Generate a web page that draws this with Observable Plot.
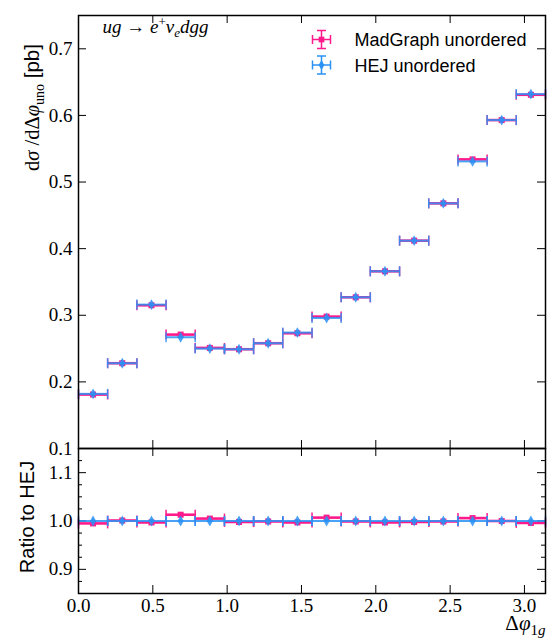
<!DOCTYPE html>
<html>
<head>
<meta charset="utf-8">
<script src="https://cdn.jsdelivr.net/npm/d3@7"></script>
<script src="https://cdn.jsdelivr.net/npm/@observablehq/plot@0.6"></script>
<style>
  body { margin: 0; background: #fff; }
  #chart { position: relative; width: 547px; height: 639px; }
  #chart svg { position: absolute; left: 0; }
</style>
</head>
<body>
<div id="chart"></div>
<script>
// ---------- data ----------
const binEdges = [0, 0.196, 0.393, 0.589, 0.785, 0.982, 1.178, 1.374, 1.571, 1.767, 1.963, 2.160, 2.356, 2.553, 2.749, 2.945, 3.1416];
const madgraph    = [0.181, 0.228, 0.315, 0.271, 0.251, 0.249, 0.258, 0.273, 0.298, 0.327, 0.366, 0.412, 0.468, 0.534, 0.593, 0.631];
const madgraphErr = [0.002, 0.002, 0.002, 0.002, 0.002, 0.002, 0.002, 0.002, 0.002, 0.002, 0.002, 0.002, 0.002, 0.002, 0.002, 0.002];
const hej         = [0.182, 0.228, 0.316, 0.267, 0.250, 0.249, 0.258, 0.274, 0.296, 0.327, 0.366, 0.412, 0.468, 0.531, 0.593, 0.632];
const hejErr      = [0.0015, 0.0015, 0.0015, 0.0015, 0.0015, 0.0015, 0.0015, 0.0015, 0.0015, 0.0015, 0.0015, 0.0015, 0.0015, 0.0015, 0.0015, 0.0015];
const ratioMadgraph    = [0.995, 1.001, 0.997, 1.013, 1.005, 0.998, 0.999, 0.997, 1.007, 0.999, 0.997, 0.998, 0.999, 1.006, 1.000, 0.996];
const ratioMadgraphErr = [0.004, 0.004, 0.004, 0.004, 0.004, 0.004, 0.004, 0.004, 0.004, 0.004, 0.004, 0.004, 0.004, 0.004, 0.004, 0.004];
const ratioHej         = [1, 1, 1, 1, 1, 1, 1, 1, 1, 1, 1, 1, 1, 1, 1, 1];
const ratioHejErr      = [0.003, 0.003, 0.003, 0.003, 0.003, 0.003, 0.003, 0.003, 0.003, 0.003, 0.003, 0.003, 0.003, 0.003, 0.003, 0.003];

const seriesNames = ["MadGraph unordered", "HEJ unordered"];
const seriesColors = ["#ff1a8c", "#2a92f4"];

const xTicks = [0, 0.5, 1.0, 1.5, 2.0, 2.5, 3.0];
const yTicksTop = [0.1, 0.2, 0.3, 0.4, 0.5, 0.6, 0.7];
const yTicksRatio = [0.9, 1.0, 1.1];
const yMinorRatio = [0.875, 0.925, 0.95, 0.975, 1.025, 1.05, 1.075, 1.125];

const xDomain = [0, 3.1416];
const yDomainTop = [0.1, 0.75];
const yDomainRatio = [0.85, 1.15];

// ---------- helpers ----------
const W = 547, ML = 78, MR = 2;
const PW = W - ML - MR;
const serif = "Liberation Serif";
const sans = "Liberation Sans";

function rows(vals, errs) {
  return vals.map((v, i) => ({lo: binEdges[i], hi: binEdges[i + 1], mid: (binEdges[i] + binEdges[i + 1]) / 2, v, e: errs[i]}));
}
const vcap = {draw(ctx) { ctx.moveTo(0, -5); ctx.lineTo(0, 5); }};
const crossBar = {draw(ctx) {
  const a = 9, c = 4.5;
  ctx.moveTo(-a, 0); ctx.lineTo(a, 0);
  ctx.moveTo(-a, -c); ctx.lineTo(-a, c);
  ctx.moveTo(a, -c); ctx.lineTo(a, c);
  ctx.moveTo(0, -a); ctx.lineTo(0, a);
  ctx.moveTo(-c, -a); ctx.lineTo(c, -a);
  ctx.moveTo(-c, a); ctx.lineTo(c, a);
}};

function seriesMarks(data, color, symbol, r, opacity, sw) {
  return [
    Plot.ruleY(data, {y: "v", x1: "lo", x2: "hi", stroke: color, strokeWidth: sw, strokeOpacity: opacity}),
    Plot.ruleX(data, {x: "mid", y1: d => d.v - d.e, y2: d => d.v + d.e, stroke: color, strokeWidth: 2, strokeOpacity: opacity}),
    Plot.dot(data, {x: "lo", y: "v", symbol: vcap, r: 5, stroke: color, fill: "none", strokeWidth: 1.5, strokeOpacity: opacity}),
    Plot.dot(data, {x: "hi", y: "v", symbol: vcap, r: 5, stroke: color, fill: "none", strokeWidth: 1.5, strokeOpacity: opacity}),
    Plot.dot(data, {x: "mid", y: "v", symbol, r, fill: color, fillOpacity: opacity, stroke: "none"})
  ];
}

function frameTicks(yMajor, yMinor, ph) {
  const m = [
    Plot.ruleY(yMajor, {insetRight: PW - 8, stroke: "black", strokeWidth: 1}),
    Plot.ruleY(yMajor, {insetLeft: PW - 8, stroke: "black", strokeWidth: 1}),
    Plot.ruleX(xTicks, {insetTop: ph - 8, stroke: "black", strokeWidth: 1}),
    Plot.ruleX(xTicks, {insetBottom: ph - 8, stroke: "black", strokeWidth: 1})
  ];
  if (yMinor) {
    m.push(Plot.ruleY(yMinor, {insetRight: PW - 4, stroke: "black", strokeWidth: 1}));
    m.push(Plot.ruleY(yMinor, {insetLeft: PW - 4, stroke: "black", strokeWidth: 1}));
  }
  return m;
}

function rich(svg, match, parts) {
  d3.select(svg).selectAll("text").filter(function () { return this.textContent === match; }).each(function () {
    const t = d3.select(this);
    t.text(null);
    let shift = 0;
    for (const p of parts) {
      const ts = t.append("tspan").text(p.t);
      if (p.family) ts.attr("font-family", p.family);
      if (p.style) ts.attr("font-style", p.style);
      if (p.size) ts.attr("font-size", p.size);
      const s = p.shift || 0;
      if (s !== shift) { ts.attr("dy", s - shift); shift = s; }
    }
  });
}

// ---------- top panel ----------
const mgRows = rows(madgraph, madgraphErr);
const hejRows = rows(hej, hejErr);
const topH = 460, topMT = 15, topMB = 12;
const topPH = topH - topMT - topMB;

const yLabelText = "dσ /dΔφuno [pb]";
const procText = "ug → e+νedgg";

const topPlot = Plot.plot({
  width: W, height: topH,
  marginTop: topMT, marginBottom: topMB, marginLeft: ML, marginRight: MR,
  style: {background: "transparent", fontFamily: serif, fontSize: "19px", overflow: "visible"},
  x: {domain: xDomain},
  y: {domain: yDomainTop},
  marks: [
    Plot.axisY({ticks: yTicksTop, tickSize: 0, tickPadding: 6, tickFormat: d3.format(".1f"), label: null, fontSize: 19}),
    Plot.axisX({ticks: [], label: null, tickSize: 0}),
    ...frameTicks(yTicksTop, null, topPH),
    ...seriesMarks(mgRows, seriesColors[0], "square", 3.4, 1, 2.6),
    ...seriesMarks(hejRows, seriesColors[1], "diamond", 3.3, 0.85, 2),
    Plot.frame({stroke: "black", strokeWidth: 1.5}),
    // legend
    Plot.dot([seriesNames[0]], {frameAnchor: "top-right", dx: -224, dy: 24, symbol: crossBar, r: 9, stroke: seriesColors[0], fill: "none", strokeWidth: 1.5}),
    Plot.dot([seriesNames[0]], {frameAnchor: "top-right", dx: -224, dy: 24, symbol: "square", r: 3.2, fill: seriesColors[0]}),
    Plot.dot([seriesNames[1]], {frameAnchor: "top-right", dx: -224, dy: 49.5, symbol: crossBar, r: 9, stroke: seriesColors[1], fill: "none", strokeWidth: 1.5}),
    Plot.dot([seriesNames[1]], {frameAnchor: "top-right", dx: -224, dy: 49.5, symbol: "diamond", r: 3, fill: seriesColors[1]}),
    Plot.text([seriesNames[0]], {text: d => d, frameAnchor: "top-right", dx: -191, dy: 30, textAnchor: "start", lineAnchor: "bottom", fontFamily: sans, fontSize: 18, fill: "black"}),
    Plot.text([seriesNames[1]], {text: d => d, frameAnchor: "top-right", dx: -191, dy: 56.5, textAnchor: "start", lineAnchor: "bottom", fontFamily: sans, fontSize: 18, fill: "black"}),
    // process annotation
    Plot.text([procText], {text: d => d, frameAnchor: "top-left", dx: 24, dy: 17, textAnchor: "start", lineAnchor: "bottom", fontFamily: serif, fontSize: 19, fill: "black"}),
    // y label
    Plot.text([yLabelText], {text: d => d, frameAnchor: "top-left", dx: -54, dy: 92, rotate: -90, textAnchor: "middle", fontFamily: serif, fontSize: 20.5, fill: "black"})
  ]
});
topPlot.style.top = "0px";

// ---------- ratio panel ----------
const rMgRows = rows(ratioMadgraph, ratioMadgraphErr);
const rHejRows = rows(ratioHej, ratioHejErr);
const botTop = 436, botH = 203, botMT = 12, botMB = 46;
const botPH = botH - botMT - botMB;
const xLabelText = "Δφ1g";

const bottomPlot = Plot.plot({
  width: W, height: botH,
  marginTop: botMT, marginBottom: botMB, marginLeft: ML, marginRight: MR,
  style: {background: "transparent", fontFamily: serif, fontSize: "19px", overflow: "visible"},
  x: {domain: xDomain},
  y: {domain: yDomainRatio},
  marks: [
    Plot.axisY({ticks: yTicksRatio, tickSize: 0, tickPadding: 6, tickFormat: d3.format(".1f"), label: null, fontSize: 19}),
    Plot.axisX({ticks: xTicks, tickSize: 0, tickPadding: 5, tickFormat: d3.format(".1f"), label: null, fontSize: 19}),
    ...frameTicks(yTicksRatio, yMinorRatio, botPH),
    ...seriesMarks(rMgRows, seriesColors[0], "square", 3.4, 1, 2.6),
    ...seriesMarks(rHejRows, seriesColors[1], "diamond", 3.3, 0.85, 2),
    Plot.frame({stroke: "black", strokeWidth: 1.5}),
    Plot.text(["Ratio to HEJ"], {text: d => d, frameAnchor: "left", dx: -51, dy: -4, rotate: -90, textAnchor: "middle", fontFamily: sans, fontSize: 20, fill: "black"}),
    Plot.text([xLabelText], {text: d => d, frameAnchor: "bottom-right", dx: 0, dy: 36, textAnchor: "end", lineAnchor: "bottom", fontFamily: serif, fontSize: 21, fill: "black"})
  ]
});
bottomPlot.style.top = botTop + "px";

const chart = document.getElementById("chart");
chart.appendChild(topPlot);
chart.appendChild(bottomPlot);

// rich text (sub/superscripts, italics)
rich(topPlot, yLabelText, [
  {t: "d"}, {t: "σ", style: "italic"}, {t: " /d"}, {t: "Δ"}, {t: "φ", style: "italic"},
  {t: "uno", size: 14, shift: 5}, {t: " [pb]", family: sans, shift: 0}
]);
rich(topPlot, procText, [
  {t: "ug", style: "italic"}, {t: " → "}, {t: "e", style: "italic"}, {t: "+", size: 13, shift: -7},
  {t: "ν", style: "italic", shift: 0}, {t: "e", style: "italic", size: 13, shift: 4}, {t: "dgg", style: "italic", shift: 0}
]);
rich(bottomPlot, xLabelText, [
  {t: "Δ"}, {t: "φ", style: "italic"}, {t: "1", size: 15, shift: 5}, {t: "g", size: 15, style: "italic", shift: 5}
]);
</script>
</body>
</html>
